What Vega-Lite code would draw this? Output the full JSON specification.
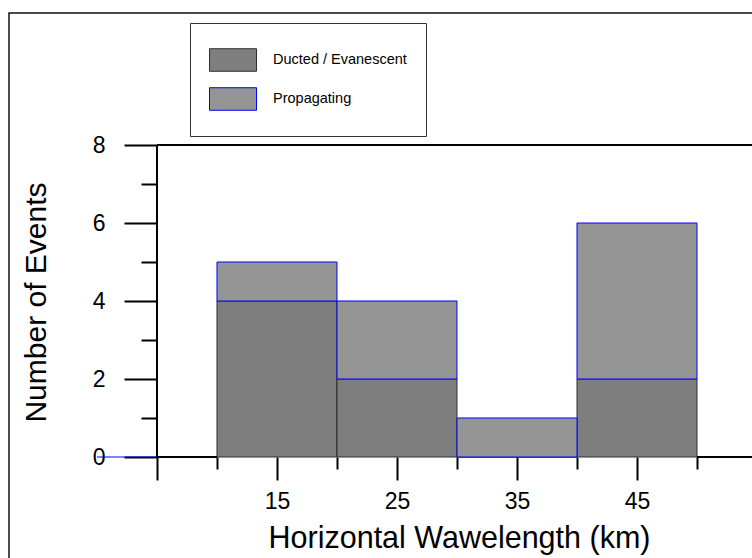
{
  "$schema": "https://vega.github.io/schema/vega-lite/v6.json",
  "width": 760,
  "height": 560,
  "autosize": {"type": "none"},
  "padding": {"left": 9, "top": 13, "right": -17, "bottom": -15},
  "background": "white",
  "config": {
    "view": {"stroke": "#111111", "strokeWidth": 1.5},
    "font": "Liberation Sans",
    "axis": {"grid": false, "domain": false, "labelColor": "black", "titleColor": "black", "tickColor": "black", "titleFontWeight": "normal", "labelFont": "Liberation Sans", "titleFont": "Liberation Sans"},
    "legend": {
      "orient": "none",
      "legendX": 181,
      "legendY": 10,
      "fillColor": "white",
      "strokeColor": "#333333",
      "strokeWidth": 1,
      "padding": 19,
      "symbolType": "M-1,-0.48H1V0.48H-1Z",
      "symbolSize": 2209,
      "symbolStrokeWidth": 1,
      "clipHeight": 36,
      "rowPadding": 3,
      "labelOffset": 16,
      "labelFontSize": 14.5,
      "labelFont": "Liberation Sans",
      "labelColor": "black",
      "labelLimit": 300
    }
  },
  "datasets": {
    "bins": [
      {"bin_start": 10, "bin_end": 20, "type": "Ducted / Evanescent", "count": 4},
      {"bin_start": 20, "bin_end": 30, "type": "Ducted / Evanescent", "count": 2},
      {"bin_start": 30, "bin_end": 40, "type": "Ducted / Evanescent", "count": 0},
      {"bin_start": 40, "bin_end": 50, "type": "Ducted / Evanescent", "count": 2},
      {"bin_start": 10, "bin_end": 20, "type": "Propagating", "count": 1},
      {"bin_start": 20, "bin_end": 30, "type": "Propagating", "count": 2},
      {"bin_start": 30, "bin_end": 40, "type": "Propagating", "count": 1},
      {"bin_start": 40, "bin_end": 50, "type": "Propagating", "count": 4}
    ]
  },
  "layer": [
    {
      "data": {"name": "bins"},
      "transform": [
        {"stack": "count", "groupby": ["bin_start"], "sort": [{"field": "type", "order": "ascending"}], "as": ["y0", "y1"]}
      ],
      "mark": {"type": "bar", "strokeWidth": 1, "opacity": 1},
      "encoding": {
        "x": {
          "field": "bin_start", "type": "quantitative",
          "scale": {"domain": [-7.33333, 56], "nice": false, "zero": false},
          "axis": {
            "orient": "bottom",
            "offset": -116,
            "values": [5, 10, 15, 20, 25, 30, 35, 40, 45, 50],
            "labelExpr": "(datum.value - 5) % 10 == 0 && datum.value > 5 ? datum.label : ''",
            "tickSize": {"condition": {"test": "(datum.value - 5) % 10 == 0", "value": 23}, "value": 12},
            "tickWidth": 2,
            "labelFontSize": 23,
            "labelPadding": 10,
            "labelOverlap": false,
            "labelFlush": false,
            "labelBound": false,
            "title": "Horizontal Wawelength (km)",
            "titleFontSize": 30.5,
            "titleX": 450,
            "titleY": 90,
            "titleAlign": "center",
            "titleBaseline": "alphabetic",
            "titleAnchor": null
          }
        },
        "x2": {"field": "bin_end"},
        "y": {
          "field": "y0", "type": "quantitative",
          "scale": {"domain": [-2.97436, 11.38462], "nice": false, "zero": false},
          "axis": {
            "orient": "left",
            "offset": -148,
            "values": [0, 1, 2, 3, 4, 5, 6, 7, 8],
            "labelExpr": "datum.value % 2 == 0 ? datum.label : ''",
            "tickSize": {"condition": {"test": "datum.value % 2 == 0", "value": 33}, "value": 16},
            "tickWidth": 2,
            "labelFontSize": 23,
            "labelPadding": 19,
            "labelOverlap": false,
            "labelFlush": false,
            "labelBound": false,
            "title": "Number of Events",
            "titleFontSize": 30,
            "titleAngle": -90,
            "titleX": -112,
            "titleY": 289,
            "titleAlign": "center",
            "titleBaseline": "alphabetic",
            "titleAnchor": null
          }
        },
        "y2": {"field": "y1"},
        "fill": {
          "field": "type", "type": "nominal",
          "scale": {"domain": ["Ducted / Evanescent", "Propagating"], "range": ["#7e7e7e", "#959595"]},
          "legend": {"title": null}
        },
        "stroke": {
          "field": "type", "type": "nominal",
          "scale": {"domain": ["Ducted / Evanescent", "Propagating"], "range": ["#2e2e2e", "#0000ff"]},
          "legend": {"title": null}
        }
      }
    },
    {
      "data": {"values": [{}]},
      "mark": {"type": "rule", "color": "black", "strokeWidth": 2},
      "encoding": {"x": {"datum": 5}, "x2": {"datum": 10}, "y": {"datum": 0}}
    },
    {
      "data": {"values": [{}]},
      "mark": {"type": "rule", "color": "black", "strokeWidth": 2},
      "encoding": {"x": {"datum": 50}, "x2": {"datum": 56}, "y": {"datum": 0}}
    },
    {
      "data": {"values": [{}]},
      "mark": {"type": "rule", "color": "#0000ff", "strokeWidth": 1},
      "encoding": {"x": {"datum": 0}, "x2": {"datum": 5}, "y": {"datum": 0}}
    },
    {
      "data": {"values": [{}]},
      "mark": {"type": "rule", "color": "black", "strokeWidth": 2},
      "encoding": {"x": {"datum": 5}, "y": {"datum": 0}, "y2": {"datum": 8}}
    },
    {
      "data": {"values": [{}]},
      "mark": {"type": "rule", "color": "black", "strokeWidth": 2},
      "encoding": {"x": {"datum": 5}, "x2": {"datum": 56}, "y": {"datum": 8}}
    }
  ]
}
